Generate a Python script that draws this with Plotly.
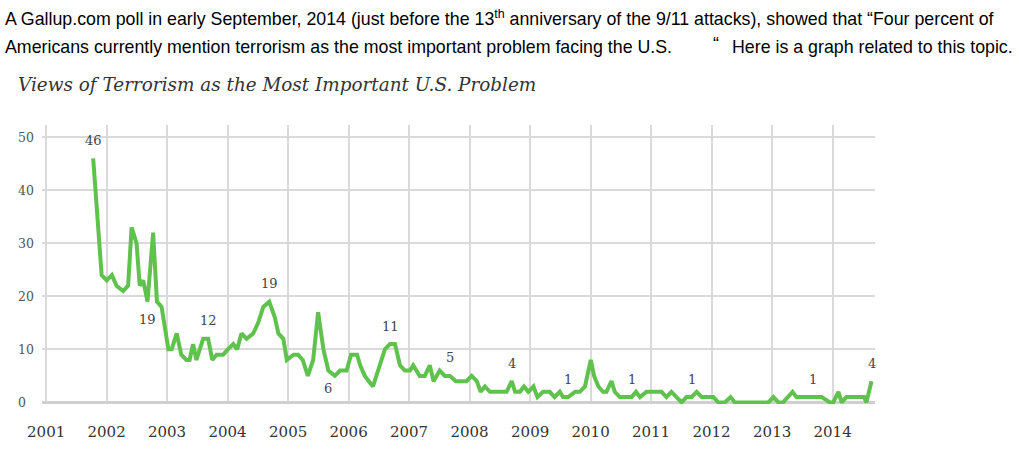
import plotly.graph_objects as go

# ---------------- data ----------------
dates = [
    "2001-10-12", "2001-12-02",
    "2002-01-02", "2002-02-02", "2002-03-02", "2002-04-11", "2002-05-11", "2002-06-01",
    "2002-07-01", "2002-07-20", "2002-08-10", "2002-09-05", "2002-10-09", "2002-11-01", "2002-11-29",
    "2003-01-09", "2003-01-29", "2003-02-28", "2003-03-28", "2003-04-28", "2003-05-17", "2003-06-07",
    "2003-06-27", "2003-08-07", "2003-09-06", "2003-10-01", "2003-10-27", "2003-12-06",
    "2004-01-03", "2004-02-05", "2004-02-28", "2004-03-25", "2004-04-25", "2004-06-04", "2004-07-04",
    "2004-08-04", "2004-09-09", "2004-10-13", "2004-11-03", "2004-12-03", "2004-12-24",
    "2005-02-02", "2005-03-02", "2005-03-30", "2005-04-30", "2005-06-01", "2005-07-01", "2005-08-02",
    "2005-09-01", "2005-10-10", "2005-11-10", "2005-12-20",
    "2006-01-16", "2006-02-21", "2006-03-12", "2006-04-09", "2006-05-03", "2006-05-28", "2006-06-28",
    "2006-08-08", "2006-09-08", "2006-10-08", "2006-11-07", "2006-12-07",
    "2007-01-07", "2007-01-26", "2007-03-06", "2007-04-06", "2007-05-06", "2007-05-29", "2007-07-05",
    "2007-08-05", "2007-09-05", "2007-10-10", "2007-11-14", "2007-12-14",
    "2008-01-14", "2008-02-14", "2008-03-08", "2008-04-03", "2008-05-03", "2008-06-13", "2008-07-22",
    "2008-08-12", "2008-09-12", "2008-10-02", "2008-11-01", "2008-11-25", "2008-12-21",
    "2009-01-21", "2009-02-14", "2009-03-20", "2009-04-29", "2009-05-29", "2009-06-29", "2009-07-19",
    "2009-08-19", "2009-09-29", "2009-10-28", "2009-11-28",
    "2010-01-02", "2010-01-22", "2010-02-17", "2010-03-17", "2010-04-07", "2010-05-07", "2010-05-27",
    "2010-06-26", "2010-07-26", "2010-09-06", "2010-10-02", "2010-10-26", "2010-12-05",
    "2011-01-15", "2011-02-05", "2011-03-05", "2011-04-04", "2011-05-04", "2011-06-04", "2011-07-04",
    "2011-08-03", "2011-09-03", "2011-10-03", "2011-11-03", "2011-12-12",
    "2012-01-12", "2012-02-11", "2012-03-21", "2012-04-25", "2012-05-21", "2012-07-15", "2012-09-15",
    "2012-12-09",
    "2013-01-09", "2013-02-08", "2013-03-08", "2013-05-04", "2013-05-28", "2013-07-05", "2013-08-17",
    "2013-09-07", "2013-10-27", "2013-12-16",
    "2014-01-05", "2014-02-05", "2014-02-25", "2014-03-25", "2014-05-05", "2014-06-14", "2014-07-10",
    "2014-07-24", "2014-08-24",
]
values = [
    46, 24,
    23, 24, 22, 21, 22, 33,
    30, 22, 23, 19, 32, 19, 18,
    10, 10, 13, 9, 8, 8, 11,
    8, 12, 12, 8, 9, 9,
    10, 11, 10, 13, 12, 13, 15,
    18, 19, 16, 13, 12, 8,
    9, 9, 8, 5, 8, 17, 10,
    6, 5, 6, 6,
    9, 9, 7, 5, 4, 3, 6,
    10, 11, 11, 7, 6,
    6, 7, 5, 5, 7, 4, 6,
    5, 5, 4, 4, 4,
    5, 4, 2, 3, 2, 2, 2,
    2, 4, 2, 2, 3, 2,
    3, 1, 2, 2, 1, 2, 1,
    1, 2, 2, 3,
    8, 5, 3, 2, 2, 4, 2,
    1, 1, 1, 2, 1, 2,
    2, 2, 2, 1, 2, 1, 0,
    1, 1, 2, 1, 1,
    1, 0, 0, 1, 0, 0, 0,
    0,
    1, 0, 0, 2, 1, 1, 1,
    1, 1, 0,
    0, 2, 0, 1, 1, 1, 1,
    0, 4,
]

# points that carry a value label, and which of them are labelled underneath
label_dates = ["2001-10-12", "2002-09-05", "2003-09-06", "2004-09-09", "2005-09-01", "2006-09-08",
               "2007-09-05", "2008-09-12", "2009-08-19", "2010-09-06", "2011-09-03", "2013-09-07",
               "2014-08-24"]
labels_below = ["2002-09-05", "2005-09-01"]

year_ticks = [f"{y}-01-01" for y in range(2001, 2015)]
year_labels = [str(y) for y in range(2001, 2015)]
y_ticks = [0, 10, 20, 30, 40, 50]

header_line1 = ("A Gallup.com poll in early September, 2014 (just before the 13<sup>th</sup> anniversary "
                "of the 9/11 attacks), showed that \u201cFour percent of")
header_line2a = "Americans currently mention terrorism as the most important problem facing the U.S."
header_quote = "\u201c"
header_line2b = "Here is a graph related to this topic."
chart_title = "Views of Terrorism as the Most Important U.S. Problem"

# ---------------- layout geometry ----------------
W, H = 1021, 462
L, R, T, B = 42, 875, 125, 404   # plot area in pixels
SERIF = "DejaVu Serif"
GRID = "#dadada"


def px(x):
    return (x - L) / (R - L)


def py(y):
    return (B - y) / (B - T)


fig = go.Figure()
fig.add_trace(go.Scatter(
    x=dates, y=values, mode="lines",
    line=dict(color="#5fc24c", width=4, shape="linear"),
    hoverinfo="skip", showlegend=False,
))

# the first year's grid line sits at the plot edge; draw it explicitly
fig.add_vline(x=year_ticks[0], line=dict(color=GRID, width=1.5), layer="below")

# value labels
for d in label_dates:
    v = values[dates.index(d)]
    fig.add_annotation(
        x=d, y=v, xref="x", yref="y", text=str(v), showarrow=False,
        yshift=-18 if d in labels_below else 18,
        font=dict(family=SERIF, size=13, color="#444"),
    )

# y tick labels, left aligned
for t in y_ticks:
    fig.add_annotation(
        x=px(16), y=t, xref="paper", yref="y", text=str(t), showarrow=False,
        xanchor="left", yanchor="middle",
        font=dict(family=SERIF, size=12.5, color="#555"),
    )

# header text and title
hdr_font = dict(family="Liberation Sans, Arial", size=17.8, color="#000")
fig.add_annotation(x=px(3), y=py(18), xref="paper", yref="paper", text=header_line1,
                   showarrow=False, xanchor="left", yanchor="middle", font=hdr_font)
fig.add_annotation(x=px(3), y=py(47), xref="paper", yref="paper", text=header_line2a,
                   showarrow=False, xanchor="left", yanchor="middle", font=hdr_font)
fig.add_annotation(x=px(716), y=py(44), xref="paper", yref="paper", text=header_quote,
                   showarrow=False, xanchor="center", yanchor="middle", font=hdr_font)
fig.add_annotation(x=px(730), y=py(47), xref="paper", yref="paper", text=header_line2b,
                   showarrow=False, xanchor="left", yanchor="middle", font=hdr_font)
fig.add_annotation(x=px(16), y=py(84), xref="paper", yref="paper", text=chart_title,
                   showarrow=False, xanchor="left", yanchor="middle",
                   font=dict(family=SERIF, size=18.4, color="#333", style="italic"))

fig.update_layout(
    width=W, height=H,
    margin=dict(l=L, r=W - R, t=T, b=H - B, pad=0),
    paper_bgcolor="white", plot_bgcolor="white",
    xaxis=dict(
        type="date", range=["2000-12-07", "2014-09-14"],
        tickmode="array", tickvals=year_ticks, ticktext=year_labels,
        showgrid=True, gridcolor=GRID, gridwidth=1.5,
        showline=False, zeroline=False, ticks="",
        ticklabelstandoff=17,
        tickfont=dict(family=SERIF, size=15, color="#333"),
    ),
    yaxis=dict(
        range=[-0.3, 52.3],
        tickmode="array", tickvals=y_ticks, showticklabels=False,
        showgrid=True, gridcolor=GRID, gridwidth=1.5,
        zeroline=True, zerolinecolor="#cfcfcf", zerolinewidth=2.5,
        showline=False, ticks="",
    ),
)

fig.write_html("out.html", config={"displayModeBar": False},
               post_script="document.body.style.margin='0px';")
